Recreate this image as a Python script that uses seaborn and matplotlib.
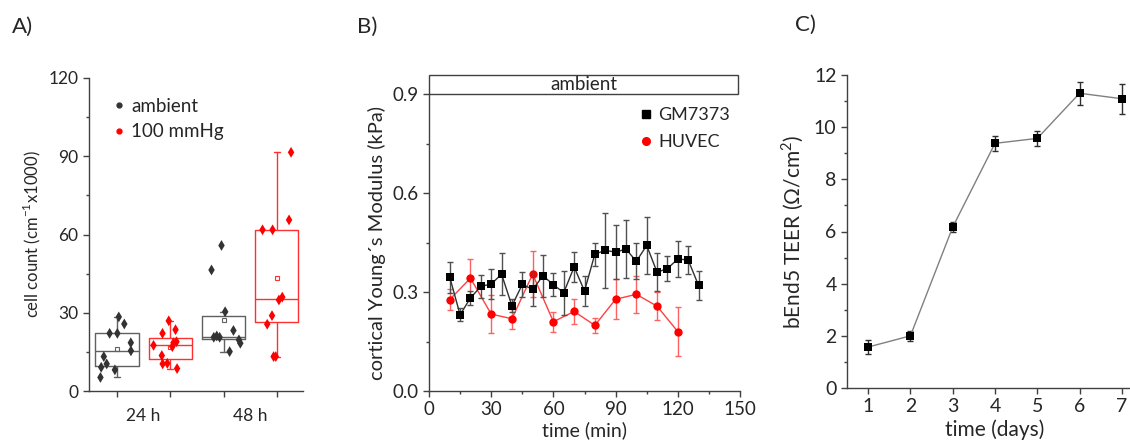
import numpy as np
import pandas as pd
import matplotlib
matplotlib.use("Agg")
import matplotlib.pyplot as plt
from matplotlib.lines import Line2D
from matplotlib.patches import Rectangle
from matplotlib.ticker import MultipleLocator
import seaborn as sns

sns.set_style("ticks")
plt.rcParams['font.family'] = ['Lato', 'DejaVu Sans']
plt.rcParams['mathtext.fontset'] = 'custom'
plt.rcParams['mathtext.rm'] = 'Lato'

# ---------------- data ----------------
# A) cell counts (cm^-1 x1000)
amb_24 = [28.4, 25.7, 22.1, 22.1, 18.5, 15.4, 13.2, 10.4, 9.1, 8.1, 5.2]
hyp_24 = [26.9, 23.5, 22.1, 18.9, 18.5, 17.5, 17.0, 13.6, 10.6, 10.4, 8.6]
amb_48 = [55.8, 46.4, 30.4, 23.2, 21.1, 20.6, 20.6, 19.6, 18.3, 15.1]
hyp_48 = [91.5, 65.6, 61.8, 61.8, 36.0, 34.9, 28.9, 25.6, 13.2, 13.2]
conditions = ["ambient", "100 mmHg"]
time_labels = ["24 h", "48 h"]

# B) cortical Young's modulus (kPa)
gm_time = [10, 15, 20, 25, 30, 35, 40, 45, 50, 55, 60, 65, 70, 75, 80,
           85, 90, 95, 100, 105, 110, 115, 120, 125, 130]
gm_mod = [0.345, 0.231, 0.282, 0.317, 0.324, 0.354, 0.258, 0.323, 0.308,
          0.349, 0.322, 0.298, 0.376, 0.303, 0.415, 0.426, 0.421, 0.430,
          0.393, 0.441, 0.360, 0.371, 0.400, 0.397, 0.320]
gm_err = [0.047, 0.020, 0.020, 0.035, 0.045, 0.063, 0.020, 0.037, 0.050,
          0.063, 0.035, 0.067, 0.045, 0.045, 0.035, 0.113, 0.083, 0.088,
          0.055, 0.086, 0.058, 0.039, 0.056, 0.042, 0.043]
hu_time = [10, 20, 30, 40, 50, 60, 70, 80, 90, 100, 110, 120]
hu_mod = [0.277, 0.342, 0.233, 0.219, 0.354, 0.210, 0.241, 0.199, 0.278,
          0.293, 0.257, 0.180]
hu_err = [0.031, 0.058, 0.058, 0.030, 0.070, 0.030, 0.037, 0.023, 0.060,
          0.057, 0.042, 0.075]

# C) bEnd5 TEER
days = [1, 2, 3, 4, 5, 6, 7]
teer = [1.57, 2.0, 6.17, 9.38, 9.57, 11.3, 11.09]
teer_err = [0.28, 0.2, 0.2, 0.3, 0.3, 0.44, 0.57]

W, H = 1130, 446
fig = plt.figure(figsize=(W / 100, H / 100), dpi=100)

spine_col = '#404040'


def style_axes(ax, fs):
    sns.despine(ax=ax)
    for s in ['left', 'bottom']:
        ax.spines[s].set_color(spine_col)
        ax.spines[s].set_linewidth(1.0)
    ax.tick_params(which='both', color=spine_col, width=1.0, labelsize=fs)
    ax.tick_params(which='major', length=4)
    ax.tick_params(which='minor', length=2.5)


# ================= A) =================
axA = fig.add_axes([89 / W, 1 - 391 / H, 214 / W, 313 / H])
groups = ["24 h ambient", "24 h 100 mmHg", "48 h ambient", "48 h 100 mmHg"]
rows = []
for vals, g, c in [(amb_24, groups[0], conditions[0]), (hyp_24, groups[1], conditions[1]),
                   (amb_48, groups[2], conditions[0]), (hyp_48, groups[3], conditions[1])]:
    for v in vals:
        rows.append({"group": g, "condition": c, "count": v})
dfA = pd.DataFrame(rows)
box_pal = {"ambient": "#606060", "100 mmHg": "#ff3030"}
pt_pal = {"ambient": "#333333", "100 mmHg": "#ff0000"}

# one boxplot call per condition so each mean marker gets its own colour
for c in conditions:
    sns.boxplot(data=dfA[dfA["condition"] == c], x="group", y="count", order=groups,
                color=box_pal[c], fill=False, width=0.81, linewidth=1.0,
                showfliers=False, showmeans=True, capwidths=0.12,
                meanprops=dict(marker='s', markersize=3, markerfacecolor='none',
                               markeredgecolor=box_pal[c], markeredgewidth=0.8),
                ax=axA)
np.random.seed(3)
sns.stripplot(data=dfA, x="group", y="count", hue="condition", order=groups,
              hue_order=conditions, palette=pt_pal, dodge=False, jitter=0.33,
              marker='d', size=5.5, linewidth=0, legend=False, ax=axA, zorder=5)

axA.set_xlim(-0.525, 3.49)
axA.set_ylim(0, 120)
axA.set_yticks([0, 30, 60, 90, 120])
axA.yaxis.set_minor_locator(MultipleLocator(15))
axA.set_xticks([0, 1, 2, 3])
axA.set_xticklabels([])
axA.set_xticks([0.5, 2.5], minor=True)
axA.set_xticklabels(time_labels, minor=True)
axA.set_xlabel("")
axA.set_ylabel("cell count (cm$^{-1}$x1000)", fontsize=12, labelpad=4)
style_axes(axA, 12.5)
axA.tick_params(axis='x', which='minor', length=0, pad=12)
hA = [Line2D([], [], marker='o', ls='', color=pt_pal[c], markersize=3.5) for c in conditions]
axA.legend(hA, conditions, loc='upper left', bbox_to_anchor=(0.01, 0.99),
           frameon=False, fontsize=13.5, handletextpad=0.05, handlelength=1.2,
           labelspacing=0.45)

# ================= B) =================
axB = fig.add_axes([429 / W, 1 - 391 / H, 311 / W, 297 / H])
dfB_gm = pd.DataFrame({"time": gm_time, "mod": gm_mod, "err": gm_err})
dfB_hu = pd.DataFrame({"time": hu_time, "mod": hu_mod, "err": hu_err})

axB.errorbar(dfB_hu["time"], dfB_hu["mod"], yerr=dfB_hu["err"], fmt='none',
             ecolor='#ff6060', elinewidth=1.0, capsize=2.5, capthick=1.0, zorder=2)
sns.lineplot(data=dfB_hu, x="time", y="mod", color='#ff4040', lw=1.0,
             marker='o', markersize=6, markeredgewidth=0, markerfacecolor='#ff0000',
             ax=axB, zorder=3)
axB.errorbar(dfB_gm["time"], dfB_gm["mod"], yerr=dfB_gm["err"], fmt='none',
             ecolor='#505050', elinewidth=1.0, capsize=2.5, capthick=1.0, zorder=4)
sns.lineplot(data=dfB_gm, x="time", y="mod", color='#303030', lw=1.0,
             marker='s', markersize=5.5, markeredgewidth=0, markerfacecolor='black',
             ax=axB, zorder=5)

axB.set_xlim(0, 150)
axB.set_ylim(0, 0.9)
axB.set_xticks([0, 30, 60, 90, 120, 150])
axB.xaxis.set_minor_locator(MultipleLocator(15))
axB.set_yticks([0.0, 0.3, 0.6, 0.9])
axB.set_yticklabels(["0.0", "0.3", "0.6", "0.9"])
axB.yaxis.set_minor_locator(MultipleLocator(0.15))
axB.set_xlabel("time (min)", fontsize=14, labelpad=2)
axB.set_ylabel("cortical Young\u00b4s Modulus (kPa)", fontsize=14.5, labelpad=5)
style_axes(axB, 13.5)
axB.add_patch(Rectangle((0, 1.0), 0.993, 19 / 297, transform=axB.transAxes,
                        clip_on=False, fill=False, edgecolor='#404040', lw=1.0))
axB.text(0.4965, 1.0 + 9.5 / 297, "ambient", transform=axB.transAxes,
         ha='center', va='center', fontsize=13.5)
hB = [Line2D([], [], marker='s', ls='', color='black', markersize=5.5),
      Line2D([], [], marker='o', ls='', color='#ff0000', markersize=5.5)]
axB.legend(hB, ["GM7373", "HUVEC"], loc='upper right', bbox_to_anchor=(1.02, 1.01),
           frameon=False, fontsize=13, handletextpad=0.1, handlelength=1.1,
           labelspacing=0.6)

# ================= C) =================
axC = fig.add_axes([847 / W, 1 - 388 / H, 296 / W, 313 / H])
dfC = pd.DataFrame({"day": days, "teer": teer, "err": teer_err})
axC.errorbar(dfC["day"], dfC["teer"], yerr=dfC["err"], fmt='none',
             ecolor='#303030', elinewidth=1.0, capsize=2.5, capthick=1.0, zorder=2)
sns.lineplot(data=dfC, x="day", y="teer", color='#808080', lw=1.0,
             marker='s', markersize=6, markeredgewidth=0, markerfacecolor='black',
             ax=axC, zorder=3)
axC.set_xlim(0.5, 7.5)
axC.set_ylim(0, 12)
axC.set_xticks(days)
axC.set_yticks([0, 2, 4, 6, 8, 10, 12])
axC.yaxis.set_minor_locator(MultipleLocator(1))
axC.set_xlabel("time (days)", fontsize=15, labelpad=3)
axC.set_ylabel("bEnd5 TEER (\u03a9/cm$^{2}$)", fontsize=15, labelpad=6)
style_axes(axC, 14)

# panel letters
fig.text(12 / W, 1 - 27 / H, "A)", fontsize=16, va='center', ha='left')
fig.text(357 / W, 1 - 27 / H, "B)", fontsize=16, va='center', ha='left')
fig.text(795 / W, 1 - 25 / H, "C)", fontsize=16, va='center', ha='left')

fig.savefig("out.png", dpi=100)
